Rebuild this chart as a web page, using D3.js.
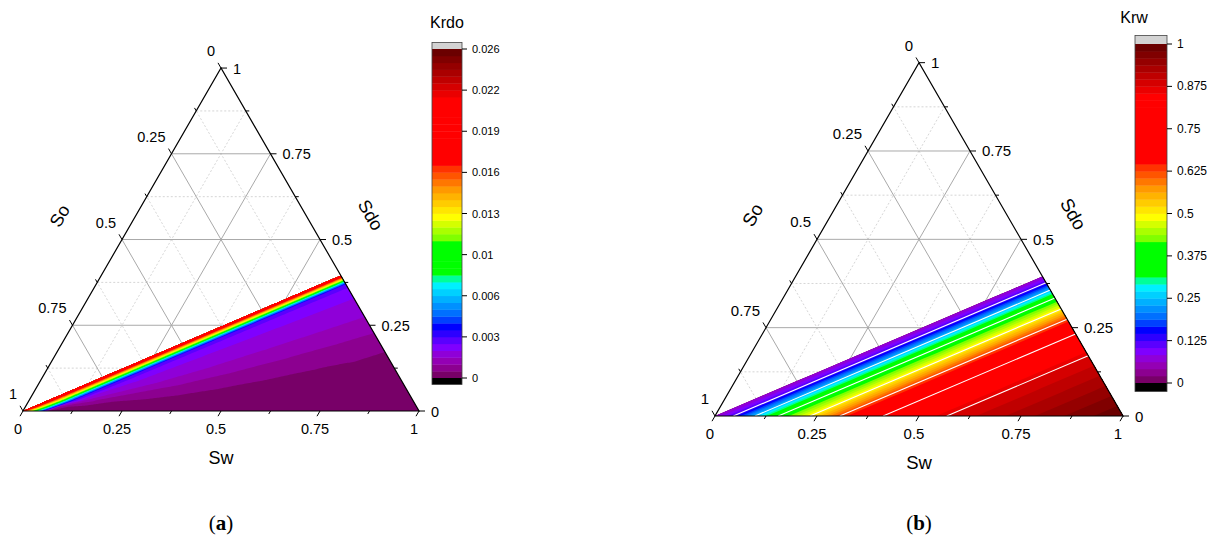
<!DOCTYPE html>
<html>
<head>
<meta charset="utf-8">
<script src="https://cdn.jsdelivr.net/npm/d3@7"></script>
<style>
  body { margin: 0; background: #fff; }
  svg { display: block; }
  text { font-family: "Liberation Sans", Arial, sans-serif; fill: #000; }
</style>
</head>
<body>
<svg id="chart" width="1217" height="544"></svg>
<script>
// ---------------- data ----------------
const axisTicks = [0, 0.25, 0.5, 0.75, 1];
const axisTickLabels = ["0", "0.25", "0.5", "0.75", "1"];
const minorTicks = [0.125, 0.375, 0.625, 0.875];

// 48-level rainbow palette, lowest level first
const levelColors = [
  "#780068", "#8c0090", "#9400b4", "#8f00d8", "#7f00ff", "#5a00ff", "#2d00ff", "#0000ff",
  "#0040ff", "#0070ff", "#0090ff", "#00b0ff", "#00d0ff", "#00f0ff", "#00ff99",
  "#00ff00", "#00ff00", "#00ff00", "#00ff00", "#00ff00",
  "#80ff00", "#aaff00", "#d4ff00", "#ffff00", "#ffe600", "#ffcc00", "#ffb300", "#ff9900",
  "#ff7700", "#ff5500", "#ff3300",
  "#ff0000", "#ff0000", "#ff0000", "#ff0000", "#ff0000", "#ff0000", "#ff0000", "#ff0000",
  "#ff0000", "#ff0000",
  "#ea0000", "#d50000", "#bf0000", "#aa0000", "#950000", "#800000", "#6b0000"
];

const krdoMax = 0.026;
const krdoTickLabels = ["0", "0.003", "0.006", "0.01", "0.013", "0.016", "0.019", "0.022", "0.026"];
const krwMax = 1;
const krwTickLabels = ["0", "0.125", "0.25", "0.375", "0.5", "0.625", "0.75", "0.875", "1"];

// Sdo where the edge of the mobile region meets the Sw–Sdo side
const edgeSdo = 0.395;

// Krdo field. Rows: offset u of a line parallel to the region edge (Sw intercept),
// columns: fraction p of the way along that line from the Sw axis to the Sdo side.
const krdoU = [0, 0.0136, 0.0255, 0.031, 0.044, 0.05, 0.065, 0.09, 0.125, 0.17, 0.24, 0.3, 0.36, 0.43, 0.5, 0.565, 0.7, 0.85, 1];
const krdoP = [0, 0.03, 0.08, 0.15, 0.25, 0.4, 0.6, 0.8, 1];
const krdoValues = [
  [0.01842, 0.02058, 0.02194, 0.02194, 0.02194, 0.02194, 0.02194, 0.02194, 0.02194],
  [0.01408, 0.01571, 0.01679, 0.01679, 0.01679, 0.01679, 0.01679, 0.01679, 0.01679],
  [0.01083, 0.01246, 0.01354, 0.01354, 0.01354, 0.01354, 0.01354, 0.01354, 0.01354],
  [0.00921, 0.01083, 0.01219, 0.01219, 0.01219, 0.01219, 0.01219, 0.01219, 0.01219],
  [0.00542, 0.00704, 0.00813, 0.00813, 0.00813, 0.00813, 0.00813, 0.00813, 0.00813],
  [0.00379, 0.00542, 0.00650, 0.00650, 0.00650, 0.00650, 0.00650, 0.00650, 0.00650],
  [0.00054, 0.00108, 0.00325, 0.00325, 0.00325, 0.00325, 0.00325, 0.00325, 0.00325],
  [0.00038, 0.00043, 0.00163, 0.00217, 0.00244, 0.00252, 0.00260, 0.00265, 0.00271],
  [0.00033, 0.00038, 0.00094, 0.00163, 0.00201, 0.00217, 0.00225, 0.00233, 0.00238],
  [0.00030, 0.00035, 0.00053, 0.00108, 0.00163, 0.00188, 0.00202, 0.00210, 0.00216],
  [0.00027, 0.00033, 0.00043, 0.00066, 0.00108, 0.00145, 0.00167, 0.00180, 0.00190],
  [0.00024, 0.00030, 0.00038, 0.00049, 0.00081, 0.00108, 0.00135, 0.00153, 0.00165],
  [0.00022, 0.00027, 0.00033, 0.00041, 0.00054, 0.00083, 0.00105, 0.00123, 0.00138],
  [0.00019, 0.00024, 0.00027, 0.00033, 0.00043, 0.00054, 0.00077, 0.00093, 0.00106],
  [0.00016, 0.00022, 0.00024, 0.00027, 0.00035, 0.00043, 0.00051, 0.00066, 0.00079],
  [0.00014, 0.00019, 0.00022, 0.00024, 0.00030, 0.00035, 0.00043, 0.00049, 0.00054],
  [0.00011, 0.00014, 0.00016, 0.00019, 0.00022, 0.00024, 0.00030, 0.00033, 0.00037],
  [0.00005, 0.00007, 0.00008, 0.00010, 0.00011, 0.00012, 0.00015, 0.00016, 0.00018],
  [0, 0, 0, 0, 0, 0, 0, 0, 0]
];

// Krw depends only on the offset u from the region edge
const krwU = [0, 0.045, 0.098, 0.155, 0.233, 0.306, 0.412, 0.568, 1];
const krwProfile = [0.06, 0.125, 0.25, 0.375, 0.5, 0.625, 0.75, 0.875, 1];
const krwIsoLevels = [0.125, 0.25, 0.375, 0.5, 0.625, 0.75, 0.875];

// ---------------- drawing ----------------
const svg = d3.select("#chart");
const SQ3 = Math.sqrt(3) / 2;
const slope = (1 - edgeSdo) / edgeSdo;   // Sw/Sdo along the region edge
const nLevels = levelColors.length;

// (u, p) -> [Sw, Sdo]
function toTernary(u, p) {
  const sdo = p * (1 - u) / (1 + slope);
  return [u + slope * sdo, sdo];
}

function drawPanel(cfg) {
  const g = svg.append("g");
  const H = cfg.w * SQ3;
  const xs = d3.scaleLinear().domain([0, 1]).range([cfg.x0, cfg.x0 + cfg.w]);
  const ys = d3.scaleLinear().domain([0, 1]).range([cfg.y0, cfg.y0 - H]);
  const pt = (sw, sdo) => [xs(sw + sdo / 2), ys(sdo)];
  const line = d3.line();

  // grid lines
  const gridG = g.append("g");
  d3.range(1, 8).map(i => i / 8).forEach(v => {
    const major = (Math.round(v * 8) % 2) === 0;
    [
      [pt(0, v), pt(1 - v, v)],
      [pt(v, 0), pt(v, 1 - v)],
      [pt(1 - v, 0), pt(0, 1 - v)]
    ].forEach(s => {
      gridG.append("path").attr("d", line(s)).attr("fill", "none")
        .attr("stroke", major ? "#a9a9a9" : "#cccccc")
        .attr("stroke-width", major ? 1 : 0.8)
        .attr("stroke-dasharray", major ? null : "2,2");
    });
  });

  // filled contours
  const nx = cfg.p.length, ny = cfg.u.length;
  const flat = [];
  cfg.values.forEach(row => row.forEach(v => flat.push(v)));
  const thresholds = d3.range(nLevels).map(k => k * cfg.max / nLevels);
  const contours = d3.contours().size([nx, ny]).thresholds(thresholds)(flat);
  const pIdx = d3.scaleLinear().domain(d3.range(nx)).range(cfg.p).clamp(true);
  const uIdx = d3.scaleLinear().domain(d3.range(ny)).range(cfg.u).clamp(true);
  const mapPt = (cx, cy) => {
    const [sw, sdo] = toTernary(uIdx(cy - 0.5), pIdx(cx - 0.5));
    return pt(sw, sdo);
  };
  const ringPath = ring => {
    const out = [];
    for (let i = 0; i < ring.length - 1; i++) {
      const a = ring[i], b = ring[i + 1];
      const n = Math.max(1, Math.ceil(Math.hypot(b[0] - a[0], b[1] - a[1]) / 0.05));
      for (let s = 0; s < n; s++) {
        const t = s / n;
        out.push(mapPt(a[0] + (b[0] - a[0]) * t, a[1] + (b[1] - a[1]) * t));
      }
    }
    return "M" + out.map(q => q[0].toFixed(2) + "," + q[1].toFixed(2)).join("L") + "Z";
  };
  const fillG = g.append("g");
  contours.forEach((c, k) => {
    if (!c.coordinates.length) return;
    const d = c.coordinates.map(poly => poly.map(ringPath).join("")).join("");
    fillG.append("path").attr("d", d).attr("fill", levelColors[k]);
  });

  // white iso-lines (Krw panel)
  if (cfg.isoLevels) {
    const uOf = d3.scaleLinear().domain(cfg.profile).range(cfg.u);
    cfg.isoLevels.forEach(v => {
      const u = uOf(v);
      const a = toTernary(u, 0), b = toTernary(u, 1);
      g.append("path").attr("d", line([pt(a[0], a[1]), pt(b[0], b[1])]))
        .attr("stroke", "#fff").attr("stroke-width", 1.1).attr("fill", "none");
    });
  }

  // frame
  g.append("path").attr("d", line([pt(0, 0), pt(1, 0), pt(0, 1)]) + "Z")
    .attr("fill", "none").attr("stroke", "#000").attr("stroke-width", 1.2)
    .attr("stroke-linejoin", "miter");

  // ticks and labels
  const axG = g.append("g");
  const dirSw = [-0.5, SQ3], dirSdo = [1, 0], dirSo = [-0.5, -SQ3];
  const tick = (p0, dir, len) => axG.append("line")
    .attr("x1", p0[0]).attr("y1", p0[1])
    .attr("x2", p0[0] + dir[0] * len).attr("y2", p0[1] + dir[1] * len)
    .attr("stroke", "#000").attr("stroke-width", 1);
  const fs = cfg.tickFont;
  axisTicks.forEach((t, i) => {
    const b = pt(t, 0);
    tick(b, dirSw, 6);
    axG.append("text").attr("x", b[0] - 5).attr("y", b[1] + 23)
      .attr("text-anchor", "middle").attr("font-size", fs).text(axisTickLabels[i]);
    const r = pt(1 - t, t);
    tick(r, dirSdo, 6);
    axG.append("text").attr("x", r[0] + 12).attr("y", r[1] + 5.5)
      .attr("font-size", fs).text(axisTickLabels[i]);
    const l = pt(0, 1 - t);
    tick(l, dirSo, 6);
    axG.append("text").attr("x", l[0] - 6).attr("y", l[1] - 12)
      .attr("text-anchor", "end").attr("font-size", fs).text(axisTickLabels[i]);
  });
  minorTicks.forEach(t => {
    tick(pt(t, 0), dirSw, 3.5);
    tick(pt(1 - t, t), dirSdo, 3.5);
    tick(pt(0, 1 - t), dirSo, 3.5);
  });

  // axis titles
  const w = cfg.w;
  const midB = pt(0.5, 0), midL = pt(0, 0.5), midR = pt(0.5, 0.5);
  axG.append("text").attr("x", midB[0]).attr("y", midB[1] + 53)
    .attr("text-anchor", "middle").attr("font-size", cfg.titleFont).text("Sw");
  const so = [midL[0] - 0.158 * w, midL[1] - 0.06 * w];
  axG.append("text").attr("transform", `translate(${so[0]},${so[1]}) rotate(-60)`)
    .attr("text-anchor", "middle").attr("dy", "0.35em").attr("font-size", cfg.titleFont).text("So");
  const sd = [midR[0] + 0.128 * w, midR[1] - 0.062 * w];
  axG.append("text").attr("transform", `translate(${sd[0]},${sd[1]}) rotate(60)`)
    .attr("text-anchor", "middle").attr("dy", "0.35em").attr("font-size", cfg.titleFont).text("Sdo");

  // color scale
  const cb = cfg.bar;
  const cbG = g.append("g");
  const vs = d3.scaleLinear().domain([0, cfg.max]).range([cb.bottom, cb.top]);
  levelColors.forEach((c, k) => {
    const y1 = vs((k + 1) * cfg.max / nLevels), y0 = vs(k * cfg.max / nLevels);
    cbG.append("rect").attr("x", cb.x).attr("width", cb.w)
      .attr("y", y1).attr("height", y0 - y1 + 0.4).attr("fill", c);
  });
  cbG.append("rect").attr("x", cb.x).attr("width", cb.w)
    .attr("y", cb.top - cb.cap).attr("height", cb.cap).attr("fill", "#d3d3d3");
  cbG.append("rect").attr("x", cb.x).attr("width", cb.w)
    .attr("y", cb.bottom).attr("height", cb.cap).attr("fill", "#000");
  cbG.append("rect").attr("x", cb.x).attr("width", cb.w)
    .attr("y", cb.top - cb.cap).attr("height", cb.bottom - cb.top + 2 * cb.cap)
    .attr("fill", "none").attr("stroke", "#444").attr("stroke-width", 0.8);
  cfg.barLabels.forEach((lab, i) => {
    const y = vs(i * cfg.max / (cfg.barLabels.length - 1));
    cbG.append("line").attr("x1", cb.x + cb.w).attr("x2", cb.x + cb.w + 5)
      .attr("y1", y).attr("y2", y).attr("stroke", "#000").attr("stroke-width", 1);
    cbG.append("text").attr("x", cb.x + cb.w + 10).attr("y", y + 4)
      .attr("font-size", cb.font).text(lab);
  });
  cbG.append("text").attr("x", cb.titleX).attr("y", cb.titleY)
    .attr("text-anchor", "middle").attr("font-size", 16).text(cfg.title);

  // panel caption
  const cap = svg.append("text").attr("x", cfg.x0 + cfg.w / 2).attr("y", 530)
    .attr("text-anchor", "middle").attr("font-size", 21)
    .style("font-family", "'Liberation Serif', 'DejaVu Serif', serif");
  cap.append("tspan").text("(");
  cap.append("tspan").attr("font-weight", "bold").text(cfg.caption);
  cap.append("tspan").text(")");
}

drawPanel({
  x0: 23, y0: 411, w: 396,
  u: krdoU, p: krdoP, values: krdoValues, max: krdoMax,
  tickFont: 14.5, titleFont: 18,
  title: "Krdo", caption: "a",
  bar: { x: 432, w: 30, top: 49, bottom: 378, cap: 6.5, font: 11, titleX: 447, titleY: 28 },
  barLabels: krdoTickLabels
});

drawPanel({
  x0: 715, y0: 416, w: 408,
  u: krwU, p: [0, 1], values: krwU.map((u, i) => [krwProfile[i], krwProfile[i]]), max: krwMax,
  profile: krwProfile, isoLevels: krwIsoLevels,
  tickFont: 15, titleFont: 18.5,
  title: "Krw", caption: "b",
  bar: { x: 1135, w: 32, top: 44, bottom: 383, cap: 8.5, font: 12, titleX: 1134, titleY: 23 },
  barLabels: krwTickLabels
});
</script>
</body>
</html>
